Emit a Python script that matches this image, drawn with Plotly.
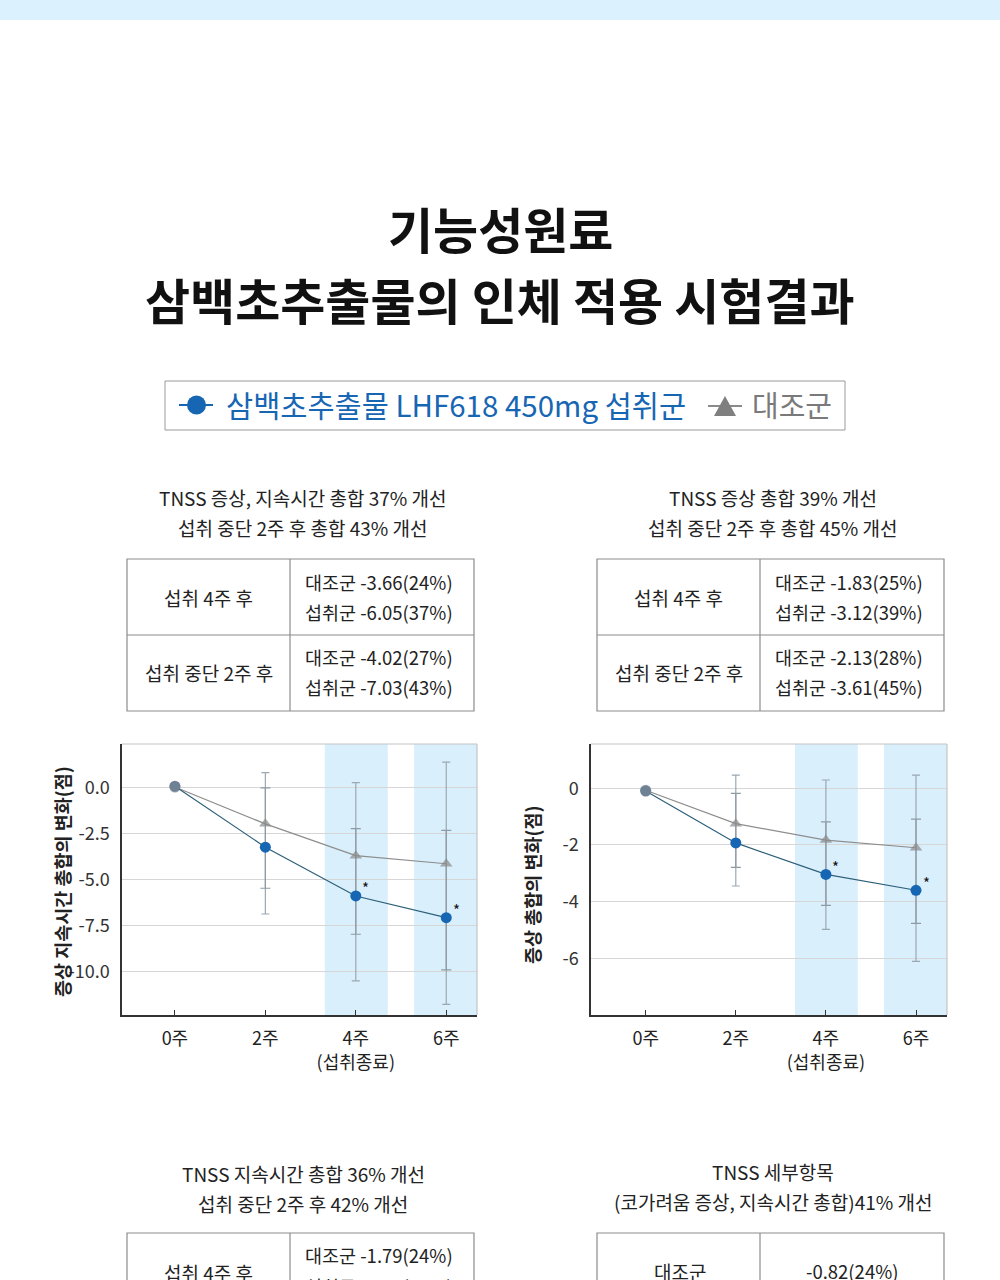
import plotly.graph_objects as go

W, H = 1000, 1280
FONT = "Noto Sans CJK KR"

# ---------------- data ----------------
weeks = ["0주", "2주", "4주", "6주"]
week_ticktext = ["0주", "2주", "4주<br>(섭취종료)", "6주"]

# left chart: 증상 지속시간 총합
left_treat = [0.1, -3.22, -5.87, -7.05]
left_ctrl = [0.05, -1.95, -3.68, -4.12]
left_treat_upper = [None, 0.83, 0.29, 1.40]
left_treat_lower = [None, -6.85, -10.49, -11.76]
left_ctrl_upper = [None, 0.0, -2.21, -2.30]
left_ctrl_lower = [None, -5.45, -7.95, -9.89]
left_yticks = [0, -2.5, -5, -7.5, -10]
left_yticktext = ["0.0", "-2.5", "-5.0", "-7.5", "-10.0"]

# right chart: 증상 총합
right_treat = [-0.1, -1.93, -3.04, -3.60]
right_ctrl = [-0.07, -1.25, -1.83, -2.10]
right_treat_upper = [None, 0.46, 0.29, 0.46]
right_treat_lower = [None, -3.45, -4.98, -6.11]
right_ctrl_upper = [None, -0.18, -1.19, -1.09]
right_ctrl_lower = [None, -2.79, -4.13, -4.77]
right_yticks = [0, -2, -4, -6]
right_yticktext = ["0", "-2", "-4", "-6"]

significant = [False, False, True, True]

# texts
title_lines = ["기능성원료", "삼백초추출물의 인체 적용 시험결과"]
legend_treat = "삼백초추출물 LHF618 450mg 섭취군"
legend_ctrl = "대조군"

left_heading = ["TNSS 증상, 지속시간 총합 37% 개선", "섭취 중단 2주 후 총합 43% 개선"]
left_table = [("섭취 4주 후", ["대조군 -3.66(24%)", "섭취군 -6.05(37%)"]),
              ("섭취 중단 2주 후", ["대조군 -4.02(27%)", "섭취군 -7.03(43%)"])]
right_heading = ["TNSS 증상 총합 39% 개선", "섭취 중단 2주 후 총합 45% 개선"]
right_table = [("섭취 4주 후", ["대조군 -1.83(25%)", "섭취군 -3.12(39%)"]),
               ("섭취 중단 2주 후", ["대조군 -2.13(28%)", "섭취군 -3.61(45%)"])]
left_ytitle = "증상 지속시간 총합의 변화(점)"
right_ytitle = "증상 총합의 변화(점)"

bottom_left_heading = ["TNSS 지속시간 총합 36% 개선", "섭취 중단 2주 후 42% 개선"]
bottom_left_row = ("섭취 4주 후", ["대조군 -1.79(24%)", "섭취군 -2.92(36%)"])
bottom_right_heading = ["TNSS 세부항목", "(코가려움 증상, 지속시간 총합)41% 개선"]
bottom_right_row = ("대조군", "-0.82(24%)")

# ---------------- styles ----------------
BLUE = "#1766b3"
TEAL_LINE = "#2c5f78"
GRAY = "#8a8a8a"
BAND = "#d9effc"
TXT = "#222222"


def px(x):
    return x / W


def py(y):
    return 1 - y / H


fig = go.Figure()
annotations = []
shapes = []


def text(x, y, s, size, color=TXT, xanchor="center", bold=False, **kw):
    annotations.append(dict(
        x=px(x), y=py(y), xref="paper", yref="paper", text=(f"<b>{s}</b>" if bold else s),
        showarrow=False, xanchor=xanchor, yanchor="middle",
        font=dict(family=FONT, size=size, color=color), **kw))


def rect(x0, y0, x1, y1, line="#8c8c8c", fill=None, width=1.2):
    shapes.append(dict(type="rect", xref="paper", yref="paper",
                       x0=px(x0), x1=px(x1), y0=py(y0), y1=py(y1),
                       line=dict(color=line, width=width),
                       fillcolor=fill if fill else "rgba(0,0,0,0)", layer="below"))


def hline(x0, x1, y, color="#8c8c8c", width=1.2):
    shapes.append(dict(type="line", xref="paper", yref="paper", x0=px(x0), x1=px(x1),
                       y0=py(y), y1=py(y), line=dict(color=color, width=width)))


def vline(x, y0, y1, color="#8c8c8c", width=1.2):
    shapes.append(dict(type="line", xref="paper", yref="paper", x0=px(x), x1=px(x),
                       y0=py(y0), y1=py(y1), line=dict(color=color, width=width)))


# top band
shapes.append(dict(type="rect", xref="paper", yref="paper", x0=0, x1=1, y0=py(20), y1=1,
                   fillcolor="#dbf2fe", line=dict(width=0), layer="below"))

# title
text(500, 228, title_lines[0], 49, color="#111111", bold=True)
text(500, 298, title_lines[1], 49, color="#111111", bold=True)

# legend box
rect(165, 381, 845, 430, line="#9a9a9a", width=1)
hline(179, 213, 405, color=BLUE, width=2)
shapes.append(dict(type="circle", xref="paper", yref="paper",
                   x0=px(187), x1=px(206), y0=py(395.5), y1=py(414.5),
                   fillcolor=BLUE, line=dict(width=0)))
text(224, 404, legend_treat, 29.5, color=BLUE, xanchor="left")
hline(708, 742, 406, color="#8a8a8a", width=2)
tri = f"M {px(714)} {py(416)} L {px(736)} {py(416)} L {px(725)} {py(396)} Z"
shapes.append(dict(type="path", xref="paper", yref="paper", path=tri,
                   fillcolor="#7f7f7f", line=dict(width=0)))
text(750, 404, legend_ctrl, 29, color="#7a7a7a", xanchor="left")


# headings + tables
def table_block(x0, x1, xdiv, heading, rows):
    cx = (x0 + x1) / 2 + 2
    text(cx, 497, heading[0], 19)
    text(cx, 527, heading[1], 19)
    rect(x0, 559, x1, 711)
    hline(x0, x1, 635)
    vline(xdiv, 559, 711)
    for i, (lab, vals) in enumerate(rows):
        ymid = 597 + 75 * i
        text((x0 + xdiv) / 2, ymid, lab, 19)
        text(xdiv + 13, ymid - 15, vals[0], 18.5, xanchor="left")
        text(xdiv + 13, ymid + 15, vals[1], 18.5, xanchor="left")


table_block(127, 474, 290, left_heading, left_table)
table_block(597, 944, 760, right_heading, right_table)

# bottom partial blocks
text(303, 1173, bottom_left_heading[0], 19)
text(303, 1203, bottom_left_heading[1], 19)
rect(127, 1233, 474, 1330)
vline(290, 1233, 1330)
text(208, 1272, bottom_left_row[0], 19)
text(303, 1255, bottom_left_row[1][0], 18.5, xanchor="left")
text(303, 1286, bottom_left_row[1][1], 18.5, xanchor="left")

text(773, 1171, bottom_right_heading[0], 19)
text(773, 1201, bottom_right_heading[1], 19)
rect(597, 1233, 944, 1330)
vline(760, 1233, 1330)
text(680, 1271, bottom_right_row[0], 19)
text(852, 1271, bottom_right_row[1], 18.5)


# ---------------- charts ----------------
def add_chart(xa, ya, treat, ctrl, t_up, t_lo, c_up, c_lo):
    xref = "x" if xa == 1 else f"x{xa}"
    yref = "y" if ya == 1 else f"y{ya}"

    def err(vals, up, lo):
        plus = [None if u is None else u - v for v, u in zip(vals, up)]
        minus = [None if l is None else v - l for v, l in zip(vals, lo)]
        return plus, minus

    tp, tm = err(treat, t_up, t_lo)
    cp, cm = err(ctrl, c_up, c_lo)
    # error bars (drawn first, below the markers)
    fig.add_trace(go.Scatter(x=weeks, y=treat, mode="markers", xaxis=xref, yaxis=yref,
                             marker=dict(color="rgba(0,0,0,0)", size=1),
                             error_y=dict(type="data", symmetric=False, array=tp, arrayminus=tm,
                                          color="#9ba8b1", thickness=1.2, width=4),
                             showlegend=False, hoverinfo="skip"))
    fig.add_trace(go.Scatter(x=weeks, y=ctrl, mode="markers", xaxis=xref, yaxis=yref,
                             marker=dict(color="rgba(0,0,0,0)", size=1),
                             error_y=dict(type="data", symmetric=False, array=cp, arrayminus=cm,
                                          color="#8f9aa3", thickness=1.2, width=5),
                             showlegend=False, hoverinfo="skip"))
    fig.add_trace(go.Scatter(x=weeks, y=ctrl, mode="lines+markers", xaxis=xref, yaxis=yref,
                             line=dict(color="#8d8d8d", width=1.2),
                             marker=dict(symbol=["circle", "triangle-up", "triangle-up", "triangle-up"],
                                         color=["#6f8294", GRAY, GRAY, GRAY], size=[11, 11, 11, 11],
                                         line=dict(width=0)),
                             showlegend=False))
    fig.add_trace(go.Scatter(x=weeks, y=treat, mode="lines+markers", xaxis=xref, yaxis=yref,
                             line=dict(color=TEAL_LINE, width=1.2),
                             marker=dict(symbol="circle", color=["#6f8294", BLUE, BLUE, BLUE], size=11,
                                         line=dict(width=0)),
                             showlegend=False))
    for w, v, s in zip(weeks, treat, significant):
        if s:
            annotations.append(dict(x=w, y=v, xref=xref, yref=yref, text="*", showarrow=False,
                                    xshift=10, yshift=8, font=dict(family=FONT, size=15, color="#111")))
    # bands
    for b0, b1 in [(1.657, 2.354), (2.645, 3.5)]:
        shapes.append(dict(type="rect", xref=xref, yref=f"{yref} domain", x0=b0, x1=b1, y0=0, y1=1,
                           fillcolor=BAND, line=dict(width=0), layer="below"))
    # top & right frame (light)
    shapes.append(dict(type="line", xref=f"{xref} domain", yref=f"{yref} domain", x0=0, x1=1, y0=1, y1=1,
                       line=dict(color="#c4c4c4", width=1.2)))
    shapes.append(dict(type="line", xref=f"{xref} domain", yref=f"{yref} domain", x0=1, x1=1, y0=0, y1=1,
                       line=dict(color="#c4c4c4", width=1.2)))


add_chart(1, 1, left_treat, left_ctrl, left_treat_upper, left_treat_lower, left_ctrl_upper, left_ctrl_lower)
add_chart(2, 2, right_treat, right_ctrl, right_treat_upper, right_treat_lower, right_ctrl_upper, right_ctrl_lower)

# y titles
annotations.append(dict(x=px(62), y=py(882), xref="paper", yref="paper", text=f"<b>{left_ytitle}</b>",
                        textangle=-90, showarrow=False, xanchor="center", yanchor="middle",
                        font=dict(family=FONT, size=18.5, color=TXT)))
annotations.append(dict(x=px(532), y=py(885), xref="paper", yref="paper", text=f"<b>{right_ytitle}</b>",
                        textangle=-90, showarrow=False, xanchor="center", yanchor="middle",
                        font=dict(family=FONT, size=18.5, color=TXT)))

xcommon = dict(type="category", categoryorder="array", categoryarray=weeks,
               tickvals=weeks, ticktext=week_ticktext, showgrid=False, zeroline=False,
               showline=True, linecolor="#333333", linewidth=1.5,
               ticks="inside", ticklen=5, tickcolor="#333333", tickwidth=1.2,
               tickfont=dict(family=FONT, size=18, color="#222"), ticklabelstandoff=7,
               fixedrange=True)
ycommon = dict(showgrid=True, gridcolor="#d6d6d6", gridwidth=1, zeroline=False,
               showline=True, linecolor="#333333", linewidth=1.5, ticks="",
               tickfont=dict(family=FONT, size=18, color="#333"), ticklabelstandoff=7,
               fixedrange=True)

fig.update_layout(
    width=W, height=H, margin=dict(l=0, r=0, t=0, b=0),
    paper_bgcolor="white", plot_bgcolor="rgba(0,0,0,0)", showlegend=False,
    xaxis=dict(domain=[px(122), px(477)], range=[-0.585, 3.34], anchor="y", **xcommon),
    yaxis=dict(domain=[py(1015), py(744)], range=[-12.34, 2.39], anchor="x",
               tickvals=left_yticks, ticktext=left_yticktext, **ycommon),
    xaxis2=dict(domain=[px(591), px(947)], range=[-0.607, 3.344], anchor="y2", **xcommon),
    yaxis2=dict(domain=[py(1015), py(744)], range=[-8.0, 1.56], anchor="x2",
                tickvals=right_yticks, ticktext=right_yticktext, **ycommon),
    annotations=annotations, shapes=shapes,
)

fig.write_html("out.html")
